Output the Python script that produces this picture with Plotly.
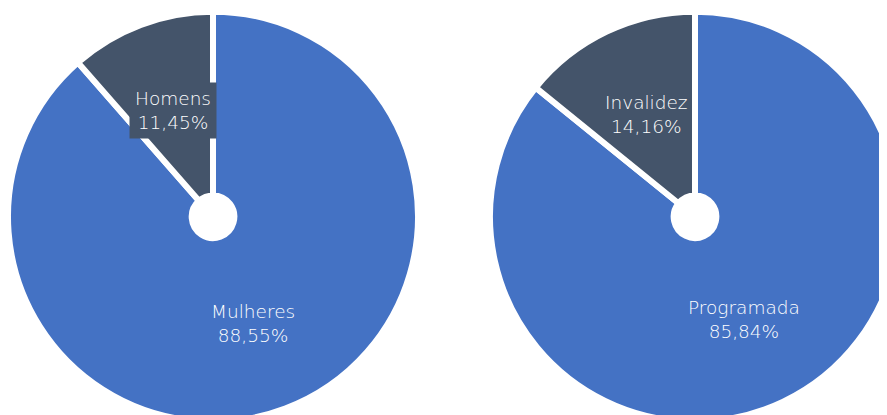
import math
import plotly.graph_objects as go

# dados
sexo_labels = ["Mulheres", "Homens"]
sexo_valores = [88.55, 11.45]
tipo_labels = ["Programada", "Invalidez"]
tipo_valores = [85.84, 14.16]
cores = ["#4472C4", "#44546A"]

# a página tem margem de 8px no body, então desconto isso
W, H = 905, 435
raio = 205
centros = [(205, 208.7), (687, 208.7)]


def dominio(cx, cy):
    return dict(x=[max(0, (cx - raio) / W), (cx + raio) / W],
                y=[(H - cy - raio) / H, (H - cy + raio) / H])


fig = go.Figure()
anots = []
for (cx, cy), labels, valores in zip(centros, [sexo_labels, tipo_labels], [sexo_valores, tipo_valores]):
    fig.add_trace(go.Pie(
        labels=labels, values=valores, sort=False, direction="clockwise", rotation=0,
        hole=0.104, domain=dominio(cx, cy), textinfo="none", hoverinfo="label+percent",
        marker=dict(colors=cores, line=dict(color="white", width=6)),
        showlegend=False,
    ))
    # rótulos no meio de cada fatia
    total = sum(valores)
    acum = 0
    for lab, v in zip(labels, valores):
        ang = math.radians(360 * (acum + v / 2) / total)
        acum += v
        px_ = cx + 0.56 * 203 * math.sin(ang)
        py_ = cy - 0.56 * 203 * math.cos(ang)
        texto = f"{lab}<br>{v:.2f}%".replace(".", ",")
        a = dict(x=px_ / W, y=(H - py_) / H, xref="paper", yref="paper",
                 xanchor="center", yanchor="middle",
                 text=texto, showarrow=False,
                 font=dict(color="white", size=18.5, family="DejaVu Sans", weight=200))
        if lab == "Homens":
            a.update(bgcolor="#44546A", borderpad=5)
        anots.append(a)

fig.update_layout(
    width=W, height=H, margin=dict(l=0, r=0, t=0, b=0),
    paper_bgcolor="white", plot_bgcolor="white",
    annotations=anots,
)
fig.write_html("out.html")
